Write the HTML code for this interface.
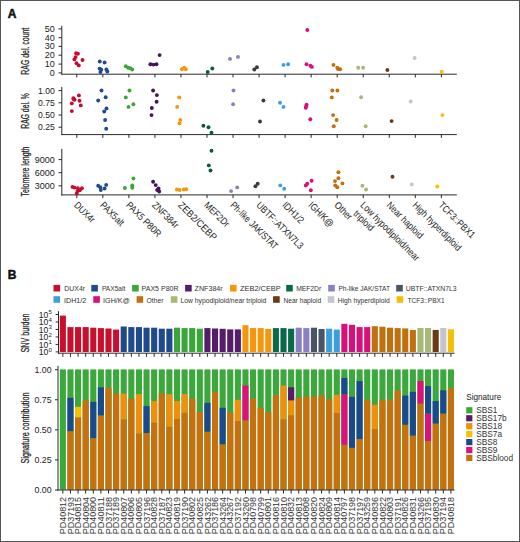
<!DOCTYPE html><html><head><meta charset="utf-8"><style>html,body{margin:0;padding:0;background:#fff;}svg{display:block;} text{font-family:"Liberation Sans", sans-serif;}</style></head><body>
<svg width="520" height="542" viewBox="0 0 520 542">
<rect x="0" y="0" width="520" height="542" fill="#fff"/>
<text x="7.80" y="18.00" font-size="12.0" text-anchor="start" font-weight="bold" fill="#111" stroke="#111" stroke-width="0.5">A</text>
<text x="7.80" y="279.10" font-size="12.0" text-anchor="start" font-weight="bold" fill="#111" stroke="#111" stroke-width="0.5">B</text>
<line x1="61.80" y1="25.80" x2="61.80" y2="74.70" stroke="#2a2a2a" stroke-width="1"/>
<line x1="61.30" y1="74.20" x2="456.80" y2="74.20" stroke="#2a2a2a" stroke-width="1"/>
<line x1="76.80" y1="74.20" x2="76.80" y2="77.40" stroke="#2a2a2a" stroke-width="1"/>
<line x1="102.84" y1="74.20" x2="102.84" y2="77.40" stroke="#2a2a2a" stroke-width="1"/>
<line x1="128.88" y1="74.20" x2="128.88" y2="77.40" stroke="#2a2a2a" stroke-width="1"/>
<line x1="154.92" y1="74.20" x2="154.92" y2="77.40" stroke="#2a2a2a" stroke-width="1"/>
<line x1="180.96" y1="74.20" x2="180.96" y2="77.40" stroke="#2a2a2a" stroke-width="1"/>
<line x1="207.00" y1="74.20" x2="207.00" y2="77.40" stroke="#2a2a2a" stroke-width="1"/>
<line x1="233.04" y1="74.20" x2="233.04" y2="77.40" stroke="#2a2a2a" stroke-width="1"/>
<line x1="259.08" y1="74.20" x2="259.08" y2="77.40" stroke="#2a2a2a" stroke-width="1"/>
<line x1="285.12" y1="74.20" x2="285.12" y2="77.40" stroke="#2a2a2a" stroke-width="1"/>
<line x1="311.16" y1="74.20" x2="311.16" y2="77.40" stroke="#2a2a2a" stroke-width="1"/>
<line x1="337.20" y1="74.20" x2="337.20" y2="77.40" stroke="#2a2a2a" stroke-width="1"/>
<line x1="363.24" y1="74.20" x2="363.24" y2="77.40" stroke="#2a2a2a" stroke-width="1"/>
<line x1="389.28" y1="74.20" x2="389.28" y2="77.40" stroke="#2a2a2a" stroke-width="1"/>
<line x1="415.32" y1="74.20" x2="415.32" y2="77.40" stroke="#2a2a2a" stroke-width="1"/>
<line x1="441.36" y1="74.20" x2="441.36" y2="77.40" stroke="#2a2a2a" stroke-width="1"/>
<line x1="58.50" y1="28.90" x2="61.80" y2="28.90" stroke="#2a2a2a" stroke-width="1"/>
<text x="54.80" y="31.80" font-size="8.2" text-anchor="end" font-weight="normal" fill="#222" textLength="10.03" lengthAdjust="spacingAndGlyphs">50</text>
<line x1="58.50" y1="37.70" x2="61.80" y2="37.70" stroke="#2a2a2a" stroke-width="1"/>
<text x="54.80" y="40.60" font-size="8.2" text-anchor="end" font-weight="normal" fill="#222" textLength="10.03" lengthAdjust="spacingAndGlyphs">40</text>
<line x1="58.50" y1="46.40" x2="61.80" y2="46.40" stroke="#2a2a2a" stroke-width="1"/>
<text x="54.80" y="49.30" font-size="8.2" text-anchor="end" font-weight="normal" fill="#222" textLength="10.03" lengthAdjust="spacingAndGlyphs">30</text>
<line x1="58.50" y1="55.20" x2="61.80" y2="55.20" stroke="#2a2a2a" stroke-width="1"/>
<text x="54.80" y="58.10" font-size="8.2" text-anchor="end" font-weight="normal" fill="#222" textLength="10.03" lengthAdjust="spacingAndGlyphs">20</text>
<line x1="58.50" y1="64.10" x2="61.80" y2="64.10" stroke="#2a2a2a" stroke-width="1"/>
<text x="54.80" y="67.00" font-size="8.2" text-anchor="end" font-weight="normal" fill="#222" textLength="10.03" lengthAdjust="spacingAndGlyphs">10</text>
<line x1="58.50" y1="72.90" x2="61.80" y2="72.90" stroke="#2a2a2a" stroke-width="1"/>
<text x="54.80" y="75.80" font-size="8.2" text-anchor="end" font-weight="normal" fill="#222" textLength="5.02" lengthAdjust="spacingAndGlyphs">0</text>
<text x="0" y="0" transform="translate(29.20 51.20) rotate(-90)" font-size="11" text-anchor="middle" font-weight="normal" fill="#222" textLength="47" lengthAdjust="spacingAndGlyphs" stroke="#222" stroke-width="0.25">RAG del. count</text>
<circle cx="76.10" cy="53.30" r="1.95" fill="#c40c30"/>
<circle cx="77.90" cy="53.70" r="1.95" fill="#c40c30"/>
<circle cx="75.60" cy="57.10" r="1.95" fill="#c40c30"/>
<circle cx="74.40" cy="59.40" r="1.95" fill="#c40c30"/>
<circle cx="82.50" cy="60.00" r="1.95" fill="#c40c30"/>
<circle cx="76.50" cy="63.20" r="1.95" fill="#c40c30"/>
<circle cx="78.80" cy="65.40" r="1.95" fill="#c40c30"/>
<circle cx="99.80" cy="61.50" r="1.95" fill="#1f4a8c"/>
<circle cx="104.60" cy="62.50" r="1.95" fill="#1f4a8c"/>
<circle cx="99.60" cy="68.60" r="1.95" fill="#1f4a8c"/>
<circle cx="101.30" cy="69.80" r="1.95" fill="#1f4a8c"/>
<circle cx="100.40" cy="72.10" r="1.95" fill="#1f4a8c"/>
<circle cx="106.40" cy="69.50" r="1.95" fill="#1f4a8c"/>
<circle cx="107.30" cy="71.50" r="1.95" fill="#1f4a8c"/>
<circle cx="125.80" cy="66.20" r="1.95" fill="#3aa53a"/>
<circle cx="128.10" cy="67.70" r="1.95" fill="#3aa53a"/>
<circle cx="130.40" cy="68.20" r="1.95" fill="#3aa53a"/>
<circle cx="132.20" cy="69.50" r="1.95" fill="#3aa53a"/>
<circle cx="150.40" cy="64.20" r="1.95" fill="#44145a"/>
<circle cx="153.50" cy="64.60" r="1.95" fill="#44145a"/>
<circle cx="156.50" cy="64.20" r="1.95" fill="#44145a"/>
<circle cx="159.60" cy="55.10" r="1.95" fill="#44145a"/>
<circle cx="181.90" cy="69.20" r="1.95" fill="#f5960c"/>
<circle cx="184.20" cy="67.70" r="1.95" fill="#f5960c"/>
<circle cx="185.80" cy="69.20" r="1.95" fill="#f5960c"/>
<circle cx="207.70" cy="72.00" r="1.95" fill="#0a5a3e"/>
<circle cx="212.30" cy="68.50" r="1.95" fill="#0a5a3e"/>
<circle cx="230.00" cy="58.90" r="1.95" fill="#8a80c0"/>
<circle cx="238.00" cy="56.90" r="1.95" fill="#8a80c0"/>
<circle cx="254.30" cy="69.50" r="1.95" fill="#383a44"/>
<circle cx="256.90" cy="67.20" r="1.95" fill="#383a44"/>
<circle cx="283.50" cy="64.90" r="1.95" fill="#3aa0dc"/>
<circle cx="288.10" cy="64.30" r="1.95" fill="#3aa0dc"/>
<circle cx="307.30" cy="30.00" r="1.95" fill="#d8107a"/>
<circle cx="306.50" cy="64.30" r="1.95" fill="#d8107a"/>
<circle cx="310.40" cy="65.70" r="1.95" fill="#d8107a"/>
<circle cx="311.90" cy="66.90" r="1.95" fill="#d8107a"/>
<circle cx="333.50" cy="64.90" r="1.95" fill="#c0700e"/>
<circle cx="337.30" cy="67.70" r="1.95" fill="#c0700e"/>
<circle cx="340.10" cy="69.20" r="1.95" fill="#c0700e"/>
<circle cx="338.00" cy="69.00" r="1.95" fill="#c0700e"/>
<circle cx="358.20" cy="67.70" r="1.95" fill="#a8b878"/>
<circle cx="363.10" cy="67.70" r="1.95" fill="#a8b878"/>
<circle cx="387.40" cy="70.00" r="1.95" fill="#6a3a14"/>
<circle cx="414.60" cy="58.00" r="1.95" fill="#c6c4cc"/>
<circle cx="441.70" cy="71.70" r="1.95" fill="#f5be08"/>
<line x1="61.80" y1="86.90" x2="61.80" y2="135.10" stroke="#2a2a2a" stroke-width="1"/>
<line x1="61.30" y1="134.60" x2="456.80" y2="134.60" stroke="#2a2a2a" stroke-width="1"/>
<line x1="76.80" y1="134.60" x2="76.80" y2="137.80" stroke="#2a2a2a" stroke-width="1"/>
<line x1="102.84" y1="134.60" x2="102.84" y2="137.80" stroke="#2a2a2a" stroke-width="1"/>
<line x1="128.88" y1="134.60" x2="128.88" y2="137.80" stroke="#2a2a2a" stroke-width="1"/>
<line x1="154.92" y1="134.60" x2="154.92" y2="137.80" stroke="#2a2a2a" stroke-width="1"/>
<line x1="180.96" y1="134.60" x2="180.96" y2="137.80" stroke="#2a2a2a" stroke-width="1"/>
<line x1="207.00" y1="134.60" x2="207.00" y2="137.80" stroke="#2a2a2a" stroke-width="1"/>
<line x1="233.04" y1="134.60" x2="233.04" y2="137.80" stroke="#2a2a2a" stroke-width="1"/>
<line x1="259.08" y1="134.60" x2="259.08" y2="137.80" stroke="#2a2a2a" stroke-width="1"/>
<line x1="285.12" y1="134.60" x2="285.12" y2="137.80" stroke="#2a2a2a" stroke-width="1"/>
<line x1="311.16" y1="134.60" x2="311.16" y2="137.80" stroke="#2a2a2a" stroke-width="1"/>
<line x1="337.20" y1="134.60" x2="337.20" y2="137.80" stroke="#2a2a2a" stroke-width="1"/>
<line x1="363.24" y1="134.60" x2="363.24" y2="137.80" stroke="#2a2a2a" stroke-width="1"/>
<line x1="389.28" y1="134.60" x2="389.28" y2="137.80" stroke="#2a2a2a" stroke-width="1"/>
<line x1="415.32" y1="134.60" x2="415.32" y2="137.80" stroke="#2a2a2a" stroke-width="1"/>
<line x1="441.36" y1="134.60" x2="441.36" y2="137.80" stroke="#2a2a2a" stroke-width="1"/>
<line x1="58.50" y1="90.60" x2="61.80" y2="90.60" stroke="#2a2a2a" stroke-width="1"/>
<text x="54.80" y="93.50" font-size="8.2" text-anchor="end" font-weight="normal" fill="#222" textLength="16.76" lengthAdjust="spacingAndGlyphs">1.00</text>
<line x1="58.50" y1="102.80" x2="61.80" y2="102.80" stroke="#2a2a2a" stroke-width="1"/>
<text x="54.80" y="105.70" font-size="8.2" text-anchor="end" font-weight="normal" fill="#222" textLength="16.76" lengthAdjust="spacingAndGlyphs">0.75</text>
<line x1="58.50" y1="115.00" x2="61.80" y2="115.00" stroke="#2a2a2a" stroke-width="1"/>
<text x="54.80" y="117.90" font-size="8.2" text-anchor="end" font-weight="normal" fill="#222" textLength="16.76" lengthAdjust="spacingAndGlyphs">0.50</text>
<line x1="58.50" y1="127.20" x2="61.80" y2="127.20" stroke="#2a2a2a" stroke-width="1"/>
<text x="54.80" y="130.10" font-size="8.2" text-anchor="end" font-weight="normal" fill="#222" textLength="16.76" lengthAdjust="spacingAndGlyphs">0.25</text>
<text x="0" y="0" transform="translate(29.20 111.00) rotate(-90)" font-size="11" text-anchor="middle" font-weight="normal" fill="#222" textLength="35.5" lengthAdjust="spacingAndGlyphs" stroke="#222" stroke-width="0.25">RAG del. %</text>
<circle cx="73.40" cy="98.20" r="1.95" fill="#c40c30"/>
<circle cx="74.60" cy="99.70" r="1.95" fill="#c40c30"/>
<circle cx="71.80" cy="103.40" r="1.95" fill="#c40c30"/>
<circle cx="78.90" cy="95.40" r="1.95" fill="#c40c30"/>
<circle cx="79.50" cy="100.80" r="1.95" fill="#c40c30"/>
<circle cx="80.80" cy="105.40" r="1.95" fill="#c40c30"/>
<circle cx="71.80" cy="111.10" r="1.95" fill="#c40c30"/>
<circle cx="73.80" cy="99.20" r="1.95" fill="#c40c30"/>
<circle cx="101.50" cy="90.50" r="1.95" fill="#1f4a8c"/>
<circle cx="98.20" cy="100.50" r="1.95" fill="#1f4a8c"/>
<circle cx="105.70" cy="97.20" r="1.95" fill="#1f4a8c"/>
<circle cx="106.50" cy="108.50" r="1.95" fill="#1f4a8c"/>
<circle cx="104.20" cy="111.50" r="1.95" fill="#1f4a8c"/>
<circle cx="105.10" cy="120.00" r="1.95" fill="#1f4a8c"/>
<circle cx="106.20" cy="128.80" r="1.95" fill="#1f4a8c"/>
<circle cx="129.50" cy="90.50" r="1.95" fill="#3aa53a"/>
<circle cx="125.80" cy="97.40" r="1.95" fill="#3aa53a"/>
<circle cx="128.50" cy="106.90" r="1.95" fill="#3aa53a"/>
<circle cx="133.40" cy="104.30" r="1.95" fill="#3aa53a"/>
<circle cx="153.10" cy="90.50" r="1.95" fill="#44145a"/>
<circle cx="156.90" cy="95.10" r="1.95" fill="#44145a"/>
<circle cx="156.60" cy="101.80" r="1.95" fill="#44145a"/>
<circle cx="151.80" cy="108.00" r="1.95" fill="#44145a"/>
<circle cx="151.50" cy="115.10" r="1.95" fill="#44145a"/>
<circle cx="179.20" cy="97.40" r="1.95" fill="#f5960c"/>
<circle cx="177.20" cy="106.90" r="1.95" fill="#f5960c"/>
<circle cx="180.30" cy="120.00" r="1.95" fill="#f5960c"/>
<circle cx="179.50" cy="123.40" r="1.95" fill="#f5960c"/>
<circle cx="203.40" cy="125.80" r="1.95" fill="#0a5a3e"/>
<circle cx="208.50" cy="127.20" r="1.95" fill="#0a5a3e"/>
<circle cx="211.50" cy="132.80" r="1.95" fill="#0a5a3e"/>
<circle cx="233.50" cy="90.50" r="1.95" fill="#8a80c0"/>
<circle cx="233.10" cy="104.20" r="1.95" fill="#8a80c0"/>
<circle cx="263.40" cy="100.50" r="1.95" fill="#383a44"/>
<circle cx="260.00" cy="121.50" r="1.95" fill="#383a44"/>
<circle cx="280.00" cy="102.80" r="1.95" fill="#3aa0dc"/>
<circle cx="283.50" cy="106.90" r="1.95" fill="#3aa0dc"/>
<circle cx="306.60" cy="104.60" r="1.95" fill="#d8107a"/>
<circle cx="305.80" cy="107.70" r="1.95" fill="#d8107a"/>
<circle cx="306.20" cy="106.20" r="1.95" fill="#d8107a"/>
<circle cx="310.30" cy="119.20" r="1.95" fill="#d8107a"/>
<circle cx="332.30" cy="90.50" r="1.95" fill="#c0700e"/>
<circle cx="337.40" cy="90.50" r="1.95" fill="#c0700e"/>
<circle cx="331.80" cy="97.40" r="1.95" fill="#c0700e"/>
<circle cx="333.10" cy="115.10" r="1.95" fill="#c0700e"/>
<circle cx="336.60" cy="120.00" r="1.95" fill="#c0700e"/>
<circle cx="333.80" cy="126.20" r="1.95" fill="#c0700e"/>
<circle cx="361.10" cy="97.30" r="1.95" fill="#a8b878"/>
<circle cx="365.70" cy="126.20" r="1.95" fill="#a8b878"/>
<circle cx="391.60" cy="121.10" r="1.95" fill="#6a3a14"/>
<circle cx="410.70" cy="101.50" r="1.95" fill="#c6c4cc"/>
<circle cx="442.40" cy="115.10" r="1.95" fill="#f5be08"/>
<line x1="61.80" y1="148.80" x2="61.80" y2="195.40" stroke="#2a2a2a" stroke-width="1"/>
<line x1="61.30" y1="194.90" x2="456.80" y2="194.90" stroke="#2a2a2a" stroke-width="1"/>
<line x1="76.80" y1="194.90" x2="76.80" y2="198.10" stroke="#2a2a2a" stroke-width="1"/>
<line x1="102.84" y1="194.90" x2="102.84" y2="198.10" stroke="#2a2a2a" stroke-width="1"/>
<line x1="128.88" y1="194.90" x2="128.88" y2="198.10" stroke="#2a2a2a" stroke-width="1"/>
<line x1="154.92" y1="194.90" x2="154.92" y2="198.10" stroke="#2a2a2a" stroke-width="1"/>
<line x1="180.96" y1="194.90" x2="180.96" y2="198.10" stroke="#2a2a2a" stroke-width="1"/>
<line x1="207.00" y1="194.90" x2="207.00" y2="198.10" stroke="#2a2a2a" stroke-width="1"/>
<line x1="233.04" y1="194.90" x2="233.04" y2="198.10" stroke="#2a2a2a" stroke-width="1"/>
<line x1="259.08" y1="194.90" x2="259.08" y2="198.10" stroke="#2a2a2a" stroke-width="1"/>
<line x1="285.12" y1="194.90" x2="285.12" y2="198.10" stroke="#2a2a2a" stroke-width="1"/>
<line x1="311.16" y1="194.90" x2="311.16" y2="198.10" stroke="#2a2a2a" stroke-width="1"/>
<line x1="337.20" y1="194.90" x2="337.20" y2="198.10" stroke="#2a2a2a" stroke-width="1"/>
<line x1="363.24" y1="194.90" x2="363.24" y2="198.10" stroke="#2a2a2a" stroke-width="1"/>
<line x1="389.28" y1="194.90" x2="389.28" y2="198.10" stroke="#2a2a2a" stroke-width="1"/>
<line x1="415.32" y1="194.90" x2="415.32" y2="198.10" stroke="#2a2a2a" stroke-width="1"/>
<line x1="441.36" y1="194.90" x2="441.36" y2="198.10" stroke="#2a2a2a" stroke-width="1"/>
<line x1="58.50" y1="159.60" x2="61.80" y2="159.60" stroke="#2a2a2a" stroke-width="1"/>
<text x="54.80" y="162.50" font-size="8.2" text-anchor="end" font-weight="normal" fill="#222" textLength="20.06" lengthAdjust="spacingAndGlyphs">9000</text>
<line x1="58.50" y1="172.70" x2="61.80" y2="172.70" stroke="#2a2a2a" stroke-width="1"/>
<text x="54.80" y="175.60" font-size="8.2" text-anchor="end" font-weight="normal" fill="#222" textLength="20.06" lengthAdjust="spacingAndGlyphs">6000</text>
<line x1="58.50" y1="185.80" x2="61.80" y2="185.80" stroke="#2a2a2a" stroke-width="1"/>
<text x="54.80" y="188.70" font-size="8.2" text-anchor="end" font-weight="normal" fill="#222" textLength="20.06" lengthAdjust="spacingAndGlyphs">3000</text>
<text x="0" y="0" transform="translate(29.20 171.50) rotate(-90)" font-size="11" text-anchor="middle" font-weight="normal" fill="#222" textLength="50" lengthAdjust="spacingAndGlyphs" stroke="#222" stroke-width="0.25">Telomere length</text>
<circle cx="72.50" cy="186.90" r="1.95" fill="#c40c30"/>
<circle cx="74.50" cy="187.60" r="1.95" fill="#c40c30"/>
<circle cx="77.80" cy="188.10" r="1.95" fill="#c40c30"/>
<circle cx="81.90" cy="188.30" r="1.95" fill="#c40c30"/>
<circle cx="79.80" cy="190.20" r="1.95" fill="#c40c30"/>
<circle cx="77.50" cy="191.10" r="1.95" fill="#c40c30"/>
<circle cx="76.80" cy="193.40" r="1.95" fill="#c40c30"/>
<circle cx="98.20" cy="185.70" r="1.95" fill="#1f4a8c"/>
<circle cx="100.30" cy="187.20" r="1.95" fill="#1f4a8c"/>
<circle cx="106.20" cy="184.90" r="1.95" fill="#1f4a8c"/>
<circle cx="104.60" cy="188.50" r="1.95" fill="#1f4a8c"/>
<circle cx="100.80" cy="190.00" r="1.95" fill="#1f4a8c"/>
<circle cx="133.40" cy="178.50" r="1.95" fill="#3aa53a"/>
<circle cx="124.90" cy="188.00" r="1.95" fill="#3aa53a"/>
<circle cx="132.30" cy="185.40" r="1.95" fill="#3aa53a"/>
<circle cx="132.30" cy="187.70" r="1.95" fill="#3aa53a"/>
<circle cx="153.10" cy="181.80" r="1.95" fill="#44145a"/>
<circle cx="155.70" cy="185.10" r="1.95" fill="#44145a"/>
<circle cx="158.50" cy="188.50" r="1.95" fill="#44145a"/>
<circle cx="157.20" cy="190.00" r="1.95" fill="#44145a"/>
<circle cx="159.20" cy="191.50" r="1.95" fill="#44145a"/>
<circle cx="176.90" cy="189.50" r="1.95" fill="#f5960c"/>
<circle cx="179.70" cy="190.00" r="1.95" fill="#f5960c"/>
<circle cx="183.80" cy="189.50" r="1.95" fill="#f5960c"/>
<circle cx="186.20" cy="189.20" r="1.95" fill="#f5960c"/>
<circle cx="211.50" cy="150.80" r="1.95" fill="#0a5a3e"/>
<circle cx="208.80" cy="165.40" r="1.95" fill="#0a5a3e"/>
<circle cx="210.50" cy="170.50" r="1.95" fill="#0a5a3e"/>
<circle cx="231.10" cy="191.10" r="1.95" fill="#8a80c0"/>
<circle cx="237.20" cy="187.40" r="1.95" fill="#8a80c0"/>
<circle cx="255.40" cy="186.20" r="1.95" fill="#383a44"/>
<circle cx="257.70" cy="183.80" r="1.95" fill="#383a44"/>
<circle cx="280.30" cy="185.40" r="1.95" fill="#3aa0dc"/>
<circle cx="284.20" cy="188.80" r="1.95" fill="#3aa0dc"/>
<circle cx="311.60" cy="180.80" r="1.95" fill="#d8107a"/>
<circle cx="307.30" cy="183.80" r="1.95" fill="#d8107a"/>
<circle cx="305.80" cy="185.40" r="1.95" fill="#d8107a"/>
<circle cx="310.80" cy="190.30" r="1.95" fill="#d8107a"/>
<circle cx="338.40" cy="172.30" r="1.95" fill="#c0700e"/>
<circle cx="338.40" cy="178.20" r="1.95" fill="#c0700e"/>
<circle cx="335.00" cy="181.10" r="1.95" fill="#c0700e"/>
<circle cx="342.40" cy="183.40" r="1.95" fill="#c0700e"/>
<circle cx="335.30" cy="185.40" r="1.95" fill="#c0700e"/>
<circle cx="337.30" cy="187.20" r="1.95" fill="#c0700e"/>
<circle cx="362.40" cy="185.80" r="1.95" fill="#a8b878"/>
<circle cx="366.10" cy="189.50" r="1.95" fill="#a8b878"/>
<circle cx="392.50" cy="176.70" r="1.95" fill="#6a3a14"/>
<circle cx="411.70" cy="184.40" r="1.95" fill="#c6c4cc"/>
<circle cx="437.30" cy="186.50" r="1.95" fill="#f5be08"/>
<text x="0" y="0" transform="translate(73.40 205.70) rotate(45)" font-size="9.8" text-anchor="start" font-weight="normal" fill="#222" textLength="25.11" lengthAdjust="spacingAndGlyphs">DUX4r</text>
<text x="0" y="0" transform="translate(99.44 205.70) rotate(45)" font-size="9.8" text-anchor="start" font-weight="normal" fill="#222" textLength="29.62" lengthAdjust="spacingAndGlyphs">PAX5alt</text>
<text x="0" y="0" transform="translate(125.48 205.70) rotate(45)" font-size="9.8" text-anchor="start" font-weight="normal" fill="#222" textLength="45.24" lengthAdjust="spacingAndGlyphs">PAX5 P80R</text>
<text x="0" y="0" transform="translate(151.52 205.70) rotate(45)" font-size="9.8" text-anchor="start" font-weight="normal" fill="#222" textLength="33.02" lengthAdjust="spacingAndGlyphs">ZNF384r</text>
<text x="0" y="0" transform="translate(177.56 205.70) rotate(45)" font-size="9.8" text-anchor="start" font-weight="normal" fill="#222" textLength="50.05" lengthAdjust="spacingAndGlyphs">ZEB2/CEBP</text>
<text x="0" y="0" transform="translate(203.60 205.70) rotate(45)" font-size="9.8" text-anchor="start" font-weight="normal" fill="#222" textLength="31.15" lengthAdjust="spacingAndGlyphs">MEF2Dr</text>
<text x="0" y="0" transform="translate(229.64 205.70) rotate(45)" font-size="9.8" text-anchor="start" font-weight="normal" fill="#222" textLength="62.73" lengthAdjust="spacingAndGlyphs">Ph-like JAK/STAT</text>
<text x="0" y="0" transform="translate(255.68 205.70) rotate(45)" font-size="9.8" text-anchor="start" font-weight="normal" fill="#222" textLength="62.17" lengthAdjust="spacingAndGlyphs">UBTF::ATXN7L3</text>
<text x="0" y="0" transform="translate(281.72 205.70) rotate(45)" font-size="9.8" text-anchor="start" font-weight="normal" fill="#222" textLength="26.05" lengthAdjust="spacingAndGlyphs">IDH1/2</text>
<text x="0" y="0" transform="translate(307.76 205.70) rotate(45)" font-size="9.8" text-anchor="start" font-weight="normal" fill="#222" textLength="31.29" lengthAdjust="spacingAndGlyphs">IGH/K@</text>
<text x="0" y="0" transform="translate(333.80 205.70) rotate(45)" font-size="9.8" text-anchor="start" font-weight="normal" fill="#222" textLength="20.93" lengthAdjust="spacingAndGlyphs">Other</text>
<text x="0" y="0" transform="translate(359.84 205.70) rotate(45)" font-size="9.8" text-anchor="start" font-weight="normal" fill="#222" textLength="79.1" lengthAdjust="spacingAndGlyphs">Low hypodiploid/near</text>
<text x="0" y="0" transform="translate(385.88 205.70) rotate(45)" font-size="9.8" text-anchor="start" font-weight="normal" fill="#222" textLength="47.46" lengthAdjust="spacingAndGlyphs">Near haploid</text>
<text x="0" y="0" transform="translate(411.92 205.70) rotate(45)" font-size="9.8" text-anchor="start" font-weight="normal" fill="#222" textLength="64.67" lengthAdjust="spacingAndGlyphs">High hyperdiploid</text>
<text x="0" y="0" transform="translate(437.96 205.70) rotate(45)" font-size="9.8" text-anchor="start" font-weight="normal" fill="#222" textLength="46.98" lengthAdjust="spacingAndGlyphs">TCF3::PBX1</text>
<text x="0" y="0" transform="translate(352.84 214.20) rotate(45)" font-size="9.8" text-anchor="start" font-weight="normal" fill="#222" textLength="24.65" lengthAdjust="spacingAndGlyphs">triploid</text>
<rect x="53.50" y="284.90" width="6.60" height="6.60" fill="#c8102e"/>
<text x="64.20" y="291.20" font-size="7.9" text-anchor="start" font-weight="normal" fill="#333" textLength="20.9" lengthAdjust="spacingAndGlyphs">DUX4r</text>
<rect x="91.30" y="284.90" width="6.60" height="6.60" fill="#1f4a8c"/>
<text x="101.90" y="291.20" font-size="7.9" text-anchor="start" font-weight="normal" fill="#333" textLength="23.5" lengthAdjust="spacingAndGlyphs">PAX5alt</text>
<rect x="132.10" y="284.90" width="6.60" height="6.60" fill="#3aa53a"/>
<text x="141.50" y="291.20" font-size="7.9" text-anchor="start" font-weight="normal" fill="#333" textLength="37.1" lengthAdjust="spacingAndGlyphs">PAX5 P80R</text>
<rect x="185.10" y="284.90" width="6.60" height="6.60" fill="#561c6c"/>
<text x="194.60" y="291.20" font-size="7.9" text-anchor="start" font-weight="normal" fill="#333" textLength="28.1" lengthAdjust="spacingAndGlyphs">ZNF384r</text>
<rect x="230.00" y="284.90" width="6.60" height="6.60" fill="#f5960c"/>
<text x="240.00" y="291.20" font-size="7.9" text-anchor="start" font-weight="normal" fill="#333" textLength="40.7" lengthAdjust="spacingAndGlyphs">ZEB2/CEBP</text>
<rect x="286.20" y="284.90" width="6.60" height="6.60" fill="#0a6a48"/>
<text x="296.20" y="291.20" font-size="7.9" text-anchor="start" font-weight="normal" fill="#333" textLength="25.0" lengthAdjust="spacingAndGlyphs">MEF2Dr</text>
<rect x="328.20" y="284.90" width="6.60" height="6.60" fill="#8a80c0"/>
<text x="338.50" y="291.20" font-size="7.9" text-anchor="start" font-weight="normal" fill="#333" textLength="51.4" lengthAdjust="spacingAndGlyphs">Ph-like JAK/STAT</text>
<rect x="396.20" y="284.90" width="6.60" height="6.60" fill="#4a5468"/>
<text x="405.80" y="291.20" font-size="7.9" text-anchor="start" font-weight="normal" fill="#333" textLength="50.8" lengthAdjust="spacingAndGlyphs">UBTF::ATXN7L3</text>
<rect x="53.50" y="296.20" width="6.60" height="6.60" fill="#3aa0dc"/>
<text x="64.00" y="302.50" font-size="7.9" text-anchor="start" font-weight="normal" fill="#333" textLength="22.2" lengthAdjust="spacingAndGlyphs">IDH1/2</text>
<rect x="93.30" y="296.20" width="6.60" height="6.60" fill="#d8107a"/>
<text x="103.10" y="302.50" font-size="7.9" text-anchor="start" font-weight="normal" fill="#333" textLength="26.7" lengthAdjust="spacingAndGlyphs">IGH/K@</text>
<rect x="136.60" y="296.20" width="6.60" height="6.60" fill="#c0700e"/>
<text x="146.50" y="302.50" font-size="7.9" text-anchor="start" font-weight="normal" fill="#333" textLength="17.0" lengthAdjust="spacingAndGlyphs">Other</text>
<rect x="170.80" y="296.20" width="6.60" height="6.60" fill="#a8b878"/>
<text x="180.50" y="302.50" font-size="7.9" text-anchor="start" font-weight="normal" fill="#333" textLength="85.7" lengthAdjust="spacingAndGlyphs">Low hypodiploid/near triploid</text>
<rect x="273.10" y="296.20" width="6.60" height="6.60" fill="#6a3a14"/>
<text x="283.40" y="302.50" font-size="7.9" text-anchor="start" font-weight="normal" fill="#333" textLength="37.8" lengthAdjust="spacingAndGlyphs">Near haploid</text>
<rect x="327.70" y="296.20" width="6.60" height="6.60" fill="#c6c4cc"/>
<text x="337.70" y="302.50" font-size="7.9" text-anchor="start" font-weight="normal" fill="#333" textLength="52.2" lengthAdjust="spacingAndGlyphs">High hyperdiploid</text>
<rect x="396.60" y="296.20" width="6.60" height="6.60" fill="#f5be08"/>
<text x="407.40" y="302.50" font-size="7.9" text-anchor="start" font-weight="normal" fill="#333" textLength="37.3" lengthAdjust="spacingAndGlyphs">TCF3::PBX1</text>
<rect x="59.80" y="315.60" width="6.10" height="36.40" fill="#c8102e"/>
<rect x="67.41" y="327.10" width="6.10" height="24.90" fill="#c8102e"/>
<rect x="75.02" y="327.10" width="6.10" height="24.90" fill="#c8102e"/>
<rect x="82.63" y="327.10" width="6.10" height="24.90" fill="#c8102e"/>
<rect x="90.24" y="327.70" width="6.10" height="24.30" fill="#c8102e"/>
<rect x="97.85" y="328.10" width="6.10" height="23.90" fill="#c8102e"/>
<rect x="105.45" y="328.50" width="6.10" height="23.50" fill="#c8102e"/>
<rect x="113.06" y="329.60" width="6.10" height="22.40" fill="#c8102e"/>
<rect x="120.67" y="326.50" width="6.10" height="25.50" fill="#1f4a8c"/>
<rect x="128.28" y="327.10" width="6.10" height="24.90" fill="#1f4a8c"/>
<rect x="135.89" y="327.10" width="6.10" height="24.90" fill="#1f4a8c"/>
<rect x="143.50" y="327.70" width="6.10" height="24.30" fill="#1f4a8c"/>
<rect x="151.11" y="327.70" width="6.10" height="24.30" fill="#1f4a8c"/>
<rect x="158.72" y="328.70" width="6.10" height="23.30" fill="#1f4a8c"/>
<rect x="166.33" y="328.70" width="6.10" height="23.30" fill="#1f4a8c"/>
<rect x="173.94" y="327.70" width="6.10" height="24.30" fill="#3aa53a"/>
<rect x="181.54" y="328.10" width="6.10" height="23.90" fill="#3aa53a"/>
<rect x="189.15" y="328.10" width="6.10" height="23.90" fill="#3aa53a"/>
<rect x="196.76" y="328.70" width="6.10" height="23.30" fill="#3aa53a"/>
<rect x="204.37" y="328.10" width="6.10" height="23.90" fill="#561c6c"/>
<rect x="211.98" y="328.50" width="6.10" height="23.50" fill="#561c6c"/>
<rect x="219.59" y="328.80" width="6.10" height="23.20" fill="#561c6c"/>
<rect x="227.20" y="329.40" width="6.10" height="22.60" fill="#561c6c"/>
<rect x="234.81" y="329.40" width="6.10" height="22.60" fill="#561c6c"/>
<rect x="242.42" y="325.20" width="6.10" height="26.80" fill="#f5960c"/>
<rect x="250.02" y="328.10" width="6.10" height="23.90" fill="#f5960c"/>
<rect x="257.63" y="328.10" width="6.10" height="23.90" fill="#f5960c"/>
<rect x="265.24" y="329.00" width="6.10" height="23.00" fill="#f5960c"/>
<rect x="272.85" y="328.10" width="6.10" height="23.90" fill="#0a6a48"/>
<rect x="280.46" y="328.10" width="6.10" height="23.90" fill="#0a6a48"/>
<rect x="288.07" y="328.70" width="6.10" height="23.30" fill="#0a6a48"/>
<rect x="295.68" y="327.70" width="6.10" height="24.30" fill="#8a80c0"/>
<rect x="303.29" y="328.10" width="6.10" height="23.90" fill="#8a80c0"/>
<rect x="310.90" y="327.70" width="6.10" height="24.30" fill="#4a5468"/>
<rect x="318.51" y="329.00" width="6.10" height="23.00" fill="#4a5468"/>
<rect x="326.12" y="328.70" width="6.10" height="23.30" fill="#3aa0dc"/>
<rect x="333.72" y="329.60" width="6.10" height="22.40" fill="#3aa0dc"/>
<rect x="341.33" y="323.80" width="6.10" height="28.20" fill="#d8107a"/>
<rect x="348.94" y="324.80" width="6.10" height="27.20" fill="#d8107a"/>
<rect x="356.55" y="327.10" width="6.10" height="24.90" fill="#d8107a"/>
<rect x="364.16" y="327.10" width="6.10" height="24.90" fill="#d8107a"/>
<rect x="371.77" y="326.20" width="6.10" height="25.80" fill="#c0700e"/>
<rect x="379.38" y="326.70" width="6.10" height="25.30" fill="#c0700e"/>
<rect x="386.99" y="327.70" width="6.10" height="24.30" fill="#c0700e"/>
<rect x="394.60" y="328.10" width="6.10" height="23.90" fill="#c0700e"/>
<rect x="402.20" y="328.40" width="6.10" height="23.60" fill="#c0700e"/>
<rect x="409.81" y="330.00" width="6.10" height="22.00" fill="#c0700e"/>
<rect x="417.42" y="328.00" width="6.10" height="24.00" fill="#a8b878"/>
<rect x="425.03" y="328.00" width="6.10" height="24.00" fill="#a8b878"/>
<rect x="432.64" y="329.90" width="6.10" height="22.10" fill="#6a3a14"/>
<rect x="440.25" y="328.00" width="6.10" height="24.00" fill="#c6c4cc"/>
<rect x="447.86" y="329.30" width="6.10" height="22.70" fill="#f5be08"/>
<line x1="58.50" y1="311.20" x2="58.50" y2="353.70" stroke="#2a2a2a" stroke-width="1"/>
<line x1="58.00" y1="353.20" x2="454.60" y2="353.20" stroke="#2a2a2a" stroke-width="1"/>
<line x1="62.85" y1="353.20" x2="62.85" y2="356.80" stroke="#2a2a2a" stroke-width="1"/>
<line x1="70.46" y1="353.20" x2="70.46" y2="356.80" stroke="#2a2a2a" stroke-width="1"/>
<line x1="78.07" y1="353.20" x2="78.07" y2="356.80" stroke="#2a2a2a" stroke-width="1"/>
<line x1="85.68" y1="353.20" x2="85.68" y2="356.80" stroke="#2a2a2a" stroke-width="1"/>
<line x1="93.29" y1="353.20" x2="93.29" y2="356.80" stroke="#2a2a2a" stroke-width="1"/>
<line x1="100.90" y1="353.20" x2="100.90" y2="356.80" stroke="#2a2a2a" stroke-width="1"/>
<line x1="108.50" y1="353.20" x2="108.50" y2="356.80" stroke="#2a2a2a" stroke-width="1"/>
<line x1="116.11" y1="353.20" x2="116.11" y2="356.80" stroke="#2a2a2a" stroke-width="1"/>
<line x1="123.72" y1="353.20" x2="123.72" y2="356.80" stroke="#2a2a2a" stroke-width="1"/>
<line x1="131.33" y1="353.20" x2="131.33" y2="356.80" stroke="#2a2a2a" stroke-width="1"/>
<line x1="138.94" y1="353.20" x2="138.94" y2="356.80" stroke="#2a2a2a" stroke-width="1"/>
<line x1="146.55" y1="353.20" x2="146.55" y2="356.80" stroke="#2a2a2a" stroke-width="1"/>
<line x1="154.16" y1="353.20" x2="154.16" y2="356.80" stroke="#2a2a2a" stroke-width="1"/>
<line x1="161.77" y1="353.20" x2="161.77" y2="356.80" stroke="#2a2a2a" stroke-width="1"/>
<line x1="169.38" y1="353.20" x2="169.38" y2="356.80" stroke="#2a2a2a" stroke-width="1"/>
<line x1="176.99" y1="353.20" x2="176.99" y2="356.80" stroke="#2a2a2a" stroke-width="1"/>
<line x1="184.59" y1="353.20" x2="184.59" y2="356.80" stroke="#2a2a2a" stroke-width="1"/>
<line x1="192.20" y1="353.20" x2="192.20" y2="356.80" stroke="#2a2a2a" stroke-width="1"/>
<line x1="199.81" y1="353.20" x2="199.81" y2="356.80" stroke="#2a2a2a" stroke-width="1"/>
<line x1="207.42" y1="353.20" x2="207.42" y2="356.80" stroke="#2a2a2a" stroke-width="1"/>
<line x1="215.03" y1="353.20" x2="215.03" y2="356.80" stroke="#2a2a2a" stroke-width="1"/>
<line x1="222.64" y1="353.20" x2="222.64" y2="356.80" stroke="#2a2a2a" stroke-width="1"/>
<line x1="230.25" y1="353.20" x2="230.25" y2="356.80" stroke="#2a2a2a" stroke-width="1"/>
<line x1="237.86" y1="353.20" x2="237.86" y2="356.80" stroke="#2a2a2a" stroke-width="1"/>
<line x1="245.47" y1="353.20" x2="245.47" y2="356.80" stroke="#2a2a2a" stroke-width="1"/>
<line x1="253.07" y1="353.20" x2="253.07" y2="356.80" stroke="#2a2a2a" stroke-width="1"/>
<line x1="260.68" y1="353.20" x2="260.68" y2="356.80" stroke="#2a2a2a" stroke-width="1"/>
<line x1="268.29" y1="353.20" x2="268.29" y2="356.80" stroke="#2a2a2a" stroke-width="1"/>
<line x1="275.90" y1="353.20" x2="275.90" y2="356.80" stroke="#2a2a2a" stroke-width="1"/>
<line x1="283.51" y1="353.20" x2="283.51" y2="356.80" stroke="#2a2a2a" stroke-width="1"/>
<line x1="291.12" y1="353.20" x2="291.12" y2="356.80" stroke="#2a2a2a" stroke-width="1"/>
<line x1="298.73" y1="353.20" x2="298.73" y2="356.80" stroke="#2a2a2a" stroke-width="1"/>
<line x1="306.34" y1="353.20" x2="306.34" y2="356.80" stroke="#2a2a2a" stroke-width="1"/>
<line x1="313.95" y1="353.20" x2="313.95" y2="356.80" stroke="#2a2a2a" stroke-width="1"/>
<line x1="321.56" y1="353.20" x2="321.56" y2="356.80" stroke="#2a2a2a" stroke-width="1"/>
<line x1="329.17" y1="353.20" x2="329.17" y2="356.80" stroke="#2a2a2a" stroke-width="1"/>
<line x1="336.77" y1="353.20" x2="336.77" y2="356.80" stroke="#2a2a2a" stroke-width="1"/>
<line x1="344.38" y1="353.20" x2="344.38" y2="356.80" stroke="#2a2a2a" stroke-width="1"/>
<line x1="351.99" y1="353.20" x2="351.99" y2="356.80" stroke="#2a2a2a" stroke-width="1"/>
<line x1="359.60" y1="353.20" x2="359.60" y2="356.80" stroke="#2a2a2a" stroke-width="1"/>
<line x1="367.21" y1="353.20" x2="367.21" y2="356.80" stroke="#2a2a2a" stroke-width="1"/>
<line x1="374.82" y1="353.20" x2="374.82" y2="356.80" stroke="#2a2a2a" stroke-width="1"/>
<line x1="382.43" y1="353.20" x2="382.43" y2="356.80" stroke="#2a2a2a" stroke-width="1"/>
<line x1="390.04" y1="353.20" x2="390.04" y2="356.80" stroke="#2a2a2a" stroke-width="1"/>
<line x1="397.65" y1="353.20" x2="397.65" y2="356.80" stroke="#2a2a2a" stroke-width="1"/>
<line x1="405.25" y1="353.20" x2="405.25" y2="356.80" stroke="#2a2a2a" stroke-width="1"/>
<line x1="412.86" y1="353.20" x2="412.86" y2="356.80" stroke="#2a2a2a" stroke-width="1"/>
<line x1="420.47" y1="353.20" x2="420.47" y2="356.80" stroke="#2a2a2a" stroke-width="1"/>
<line x1="428.08" y1="353.20" x2="428.08" y2="356.80" stroke="#2a2a2a" stroke-width="1"/>
<line x1="435.69" y1="353.20" x2="435.69" y2="356.80" stroke="#2a2a2a" stroke-width="1"/>
<line x1="443.30" y1="353.20" x2="443.30" y2="356.80" stroke="#2a2a2a" stroke-width="1"/>
<line x1="450.91" y1="353.20" x2="450.91" y2="356.80" stroke="#2a2a2a" stroke-width="1"/>
<line x1="55.60" y1="351.90" x2="58.50" y2="351.90" stroke="#2a2a2a" stroke-width="1"/>
<text x="48.40" y="355.20" font-size="8.6" text-anchor="end" font-weight="normal" fill="#222">10</text>
<text x="48.40" y="351.60" font-size="6.1" text-anchor="start" font-weight="normal" fill="#222">0</text>
<line x1="55.60" y1="344.42" x2="58.50" y2="344.42" stroke="#2a2a2a" stroke-width="1"/>
<text x="48.40" y="347.72" font-size="8.6" text-anchor="end" font-weight="normal" fill="#222">10</text>
<text x="48.40" y="344.12" font-size="6.1" text-anchor="start" font-weight="normal" fill="#222">1</text>
<line x1="55.60" y1="336.94" x2="58.50" y2="336.94" stroke="#2a2a2a" stroke-width="1"/>
<text x="48.40" y="340.24" font-size="8.6" text-anchor="end" font-weight="normal" fill="#222">10</text>
<text x="48.40" y="336.64" font-size="6.1" text-anchor="start" font-weight="normal" fill="#222">2</text>
<line x1="55.60" y1="329.46" x2="58.50" y2="329.46" stroke="#2a2a2a" stroke-width="1"/>
<text x="48.40" y="332.76" font-size="8.6" text-anchor="end" font-weight="normal" fill="#222">10</text>
<text x="48.40" y="329.16" font-size="6.1" text-anchor="start" font-weight="normal" fill="#222">3</text>
<line x1="55.60" y1="321.98" x2="58.50" y2="321.98" stroke="#2a2a2a" stroke-width="1"/>
<text x="48.40" y="325.28" font-size="8.6" text-anchor="end" font-weight="normal" fill="#222">10</text>
<text x="48.40" y="321.68" font-size="6.1" text-anchor="start" font-weight="normal" fill="#222">4</text>
<line x1="55.60" y1="314.50" x2="58.50" y2="314.50" stroke="#2a2a2a" stroke-width="1"/>
<text x="48.40" y="317.80" font-size="8.6" text-anchor="end" font-weight="normal" fill="#222">10</text>
<text x="48.40" y="314.20" font-size="6.1" text-anchor="start" font-weight="normal" fill="#222">5</text>
<text x="0" y="0" transform="translate(29.20 333.00) rotate(-90)" font-size="11" text-anchor="middle" font-weight="normal" fill="#222" textLength="39" lengthAdjust="spacingAndGlyphs" stroke="#222" stroke-width="0.25">SNV burden</text>
<rect x="59.80" y="369.40" width="6.10" height="120.30" fill="#3aa83a"/>
<rect x="67.41" y="369.40" width="6.10" height="120.30" fill="#3aa83a"/>
<rect x="67.41" y="431.11" width="6.10" height="58.59" fill="#c8700e"/>
<rect x="67.41" y="397.79" width="6.10" height="33.32" fill="#1a4a8c"/>
<rect x="75.02" y="369.40" width="6.10" height="120.30" fill="#3aa83a"/>
<rect x="75.02" y="417.40" width="6.10" height="72.30" fill="#c8700e"/>
<rect x="75.02" y="406.81" width="6.10" height="10.59" fill="#f8c000"/>
<rect x="82.63" y="369.40" width="6.10" height="120.30" fill="#3aa83a"/>
<rect x="82.63" y="400.32" width="6.10" height="89.38" fill="#c8700e"/>
<rect x="90.24" y="369.40" width="6.10" height="120.30" fill="#3aa83a"/>
<rect x="90.24" y="438.09" width="6.10" height="51.61" fill="#c8700e"/>
<rect x="90.24" y="401.88" width="6.10" height="36.21" fill="#1a4a8c"/>
<rect x="97.85" y="369.40" width="6.10" height="120.30" fill="#3aa83a"/>
<rect x="97.85" y="415.35" width="6.10" height="74.35" fill="#c8700e"/>
<rect x="97.85" y="387.32" width="6.10" height="28.03" fill="#1a4a8c"/>
<rect x="105.45" y="369.40" width="6.10" height="120.30" fill="#3aa83a"/>
<rect x="105.45" y="387.81" width="6.10" height="101.89" fill="#c8700e"/>
<rect x="113.06" y="369.40" width="6.10" height="120.30" fill="#3aa83a"/>
<rect x="113.06" y="393.58" width="6.10" height="96.12" fill="#c8700e"/>
<rect x="120.67" y="369.40" width="6.10" height="120.30" fill="#3aa83a"/>
<rect x="120.67" y="419.32" width="6.10" height="70.38" fill="#c8700e"/>
<rect x="120.67" y="393.58" width="6.10" height="25.74" fill="#f0900a"/>
<rect x="128.28" y="369.40" width="6.10" height="120.30" fill="#3aa83a"/>
<rect x="128.28" y="398.63" width="6.10" height="91.07" fill="#c8700e"/>
<rect x="135.89" y="369.40" width="6.10" height="120.30" fill="#3aa83a"/>
<rect x="135.89" y="433.52" width="6.10" height="56.18" fill="#c8700e"/>
<rect x="135.89" y="394.06" width="6.10" height="39.46" fill="#f0900a"/>
<rect x="143.50" y="369.40" width="6.10" height="120.30" fill="#3aa83a"/>
<rect x="143.50" y="433.04" width="6.10" height="56.66" fill="#c8700e"/>
<rect x="143.50" y="406.09" width="6.10" height="26.95" fill="#1a4a8c"/>
<rect x="151.11" y="369.40" width="6.10" height="120.30" fill="#3aa83a"/>
<rect x="151.11" y="422.69" width="6.10" height="67.01" fill="#c8700e"/>
<rect x="151.11" y="401.04" width="6.10" height="21.65" fill="#f0900a"/>
<rect x="158.72" y="369.40" width="6.10" height="120.30" fill="#3aa83a"/>
<rect x="158.72" y="393.58" width="6.10" height="96.12" fill="#c8700e"/>
<rect x="166.33" y="369.40" width="6.10" height="120.30" fill="#3aa83a"/>
<rect x="166.33" y="426.78" width="6.10" height="62.92" fill="#c8700e"/>
<rect x="166.33" y="394.30" width="6.10" height="32.48" fill="#f0900a"/>
<rect x="173.94" y="369.40" width="6.10" height="120.30" fill="#3aa83a"/>
<rect x="173.94" y="419.08" width="6.10" height="70.62" fill="#c8700e"/>
<rect x="173.94" y="401.04" width="6.10" height="18.05" fill="#f0900a"/>
<rect x="181.54" y="369.40" width="6.10" height="120.30" fill="#3aa83a"/>
<rect x="181.54" y="412.83" width="6.10" height="76.87" fill="#c8700e"/>
<rect x="181.54" y="394.06" width="6.10" height="18.77" fill="#f0900a"/>
<rect x="189.15" y="369.40" width="6.10" height="120.30" fill="#3aa83a"/>
<rect x="189.15" y="398.63" width="6.10" height="91.07" fill="#c8700e"/>
<rect x="196.76" y="369.40" width="6.10" height="120.30" fill="#3aa83a"/>
<rect x="196.76" y="411.87" width="6.10" height="77.83" fill="#c8700e"/>
<rect x="204.37" y="369.40" width="6.10" height="120.30" fill="#3aa83a"/>
<rect x="204.37" y="431.60" width="6.10" height="58.10" fill="#c8700e"/>
<rect x="204.37" y="402.84" width="6.10" height="28.75" fill="#1a4a8c"/>
<rect x="211.98" y="369.40" width="6.10" height="120.30" fill="#3aa83a"/>
<rect x="211.98" y="391.78" width="6.10" height="97.92" fill="#c8700e"/>
<rect x="219.59" y="369.40" width="6.10" height="120.30" fill="#3aa83a"/>
<rect x="219.59" y="444.23" width="6.10" height="45.47" fill="#c8700e"/>
<rect x="219.59" y="407.78" width="6.10" height="36.45" fill="#1a4a8c"/>
<rect x="227.20" y="369.40" width="6.10" height="120.30" fill="#3aa83a"/>
<rect x="227.20" y="412.35" width="6.10" height="77.35" fill="#c8700e"/>
<rect x="234.81" y="369.40" width="6.10" height="120.30" fill="#3aa83a"/>
<rect x="234.81" y="421.01" width="6.10" height="68.69" fill="#c8700e"/>
<rect x="234.81" y="399.84" width="6.10" height="21.17" fill="#f0900a"/>
<rect x="242.42" y="369.40" width="6.10" height="120.30" fill="#3aa83a"/>
<rect x="242.42" y="420.29" width="6.10" height="69.41" fill="#c8700e"/>
<rect x="242.42" y="385.64" width="6.10" height="34.65" fill="#e0107a"/>
<rect x="250.02" y="369.40" width="6.10" height="120.30" fill="#3aa83a"/>
<rect x="250.02" y="398.63" width="6.10" height="91.07" fill="#c8700e"/>
<rect x="257.63" y="369.40" width="6.10" height="120.30" fill="#3aa83a"/>
<rect x="257.63" y="408.02" width="6.10" height="81.68" fill="#c8700e"/>
<rect x="265.24" y="369.40" width="6.10" height="120.30" fill="#3aa83a"/>
<rect x="265.24" y="412.35" width="6.10" height="77.35" fill="#c8700e"/>
<rect x="272.85" y="369.40" width="6.10" height="120.30" fill="#3aa83a"/>
<rect x="272.85" y="395.26" width="6.10" height="94.44" fill="#c8700e"/>
<rect x="280.46" y="369.40" width="6.10" height="120.30" fill="#3aa83a"/>
<rect x="280.46" y="419.32" width="6.10" height="70.38" fill="#c8700e"/>
<rect x="280.46" y="385.64" width="6.10" height="33.68" fill="#f0900a"/>
<rect x="288.07" y="369.40" width="6.10" height="120.30" fill="#3aa83a"/>
<rect x="288.07" y="415.35" width="6.10" height="74.35" fill="#c8700e"/>
<rect x="288.07" y="400.32" width="6.10" height="15.04" fill="#f0900a"/>
<rect x="288.07" y="387.32" width="6.10" height="12.99" fill="#561c6c"/>
<rect x="295.68" y="369.40" width="6.10" height="120.30" fill="#3aa83a"/>
<rect x="295.68" y="397.79" width="6.10" height="91.91" fill="#c8700e"/>
<rect x="303.29" y="369.40" width="6.10" height="120.30" fill="#3aa83a"/>
<rect x="303.29" y="396.59" width="6.10" height="93.11" fill="#c8700e"/>
<rect x="310.90" y="369.40" width="6.10" height="120.30" fill="#3aa83a"/>
<rect x="310.90" y="396.59" width="6.10" height="93.11" fill="#c8700e"/>
<rect x="318.51" y="369.40" width="6.10" height="120.30" fill="#3aa83a"/>
<rect x="318.51" y="395.26" width="6.10" height="94.44" fill="#c8700e"/>
<rect x="326.12" y="369.40" width="6.10" height="120.30" fill="#3aa83a"/>
<rect x="326.12" y="399.35" width="6.10" height="90.35" fill="#c8700e"/>
<rect x="333.72" y="369.40" width="6.10" height="120.30" fill="#3aa83a"/>
<rect x="333.72" y="413.07" width="6.10" height="76.63" fill="#c8700e"/>
<rect x="333.72" y="394.78" width="6.10" height="18.29" fill="#f0900a"/>
<rect x="341.33" y="369.40" width="6.10" height="120.30" fill="#3aa83a"/>
<rect x="341.33" y="444.71" width="6.10" height="44.99" fill="#c8700e"/>
<rect x="341.33" y="394.30" width="6.10" height="50.41" fill="#e0107a"/>
<rect x="341.33" y="377.94" width="6.10" height="16.36" fill="#1a4a8c"/>
<rect x="348.94" y="369.40" width="6.10" height="120.30" fill="#3aa83a"/>
<rect x="348.94" y="447.72" width="6.10" height="41.98" fill="#c8700e"/>
<rect x="348.94" y="396.83" width="6.10" height="50.89" fill="#1a4a8c"/>
<rect x="356.55" y="369.40" width="6.10" height="120.30" fill="#3aa83a"/>
<rect x="356.55" y="439.05" width="6.10" height="50.65" fill="#c8700e"/>
<rect x="356.55" y="381.07" width="6.10" height="57.98" fill="#1a4a8c"/>
<rect x="364.16" y="369.40" width="6.10" height="120.30" fill="#3aa83a"/>
<rect x="364.16" y="399.84" width="6.10" height="89.86" fill="#c8700e"/>
<rect x="371.77" y="369.40" width="6.10" height="120.30" fill="#3aa83a"/>
<rect x="371.77" y="429.07" width="6.10" height="60.63" fill="#c8700e"/>
<rect x="371.77" y="404.77" width="6.10" height="24.30" fill="#f0900a"/>
<rect x="379.38" y="369.40" width="6.10" height="120.30" fill="#3aa83a"/>
<rect x="379.38" y="399.84" width="6.10" height="89.86" fill="#c8700e"/>
<rect x="386.99" y="369.40" width="6.10" height="120.30" fill="#3aa83a"/>
<rect x="386.99" y="399.84" width="6.10" height="89.86" fill="#c8700e"/>
<rect x="394.60" y="369.40" width="6.10" height="120.30" fill="#3aa83a"/>
<rect x="394.60" y="390.33" width="6.10" height="99.37" fill="#c8700e"/>
<rect x="402.20" y="369.40" width="6.10" height="120.30" fill="#3aa83a"/>
<rect x="402.20" y="424.74" width="6.10" height="64.96" fill="#c8700e"/>
<rect x="402.20" y="395.63" width="6.10" height="29.11" fill="#1a4a8c"/>
<rect x="409.81" y="369.40" width="6.10" height="120.30" fill="#3aa83a"/>
<rect x="409.81" y="435.56" width="6.10" height="54.13" fill="#c8700e"/>
<rect x="409.81" y="391.78" width="6.10" height="43.79" fill="#1a4a8c"/>
<rect x="417.42" y="369.40" width="6.10" height="120.30" fill="#3aa83a"/>
<rect x="417.42" y="403.57" width="6.10" height="86.13" fill="#c8700e"/>
<rect x="417.42" y="381.07" width="6.10" height="22.50" fill="#e0107a"/>
<rect x="425.03" y="369.40" width="6.10" height="120.30" fill="#3aa83a"/>
<rect x="425.03" y="440.98" width="6.10" height="48.72" fill="#c8700e"/>
<rect x="425.03" y="413.55" width="6.10" height="27.43" fill="#e0107a"/>
<rect x="425.03" y="386.12" width="6.10" height="27.43" fill="#1a4a8c"/>
<rect x="432.64" y="369.40" width="6.10" height="120.30" fill="#3aa83a"/>
<rect x="432.64" y="423.53" width="6.10" height="66.17" fill="#c8700e"/>
<rect x="432.64" y="401.04" width="6.10" height="22.50" fill="#1a4a8c"/>
<rect x="440.25" y="369.40" width="6.10" height="120.30" fill="#3aa83a"/>
<rect x="440.25" y="413.55" width="6.10" height="76.15" fill="#c8700e"/>
<rect x="440.25" y="390.33" width="6.10" height="23.22" fill="#1a4a8c"/>
<rect x="447.86" y="369.40" width="6.10" height="120.30" fill="#3aa83a"/>
<rect x="447.86" y="388.17" width="6.10" height="101.53" fill="#c8700e"/>
<line x1="58.00" y1="365.80" x2="58.00" y2="490.50" stroke="#2a2a2a" stroke-width="1"/>
<line x1="57.50" y1="490.00" x2="454.60" y2="490.00" stroke="#2a2a2a" stroke-width="1"/>
<line x1="62.85" y1="490.00" x2="62.85" y2="493.60" stroke="#2a2a2a" stroke-width="1"/>
<line x1="70.46" y1="490.00" x2="70.46" y2="493.60" stroke="#2a2a2a" stroke-width="1"/>
<line x1="78.07" y1="490.00" x2="78.07" y2="493.60" stroke="#2a2a2a" stroke-width="1"/>
<line x1="85.68" y1="490.00" x2="85.68" y2="493.60" stroke="#2a2a2a" stroke-width="1"/>
<line x1="93.29" y1="490.00" x2="93.29" y2="493.60" stroke="#2a2a2a" stroke-width="1"/>
<line x1="100.90" y1="490.00" x2="100.90" y2="493.60" stroke="#2a2a2a" stroke-width="1"/>
<line x1="108.50" y1="490.00" x2="108.50" y2="493.60" stroke="#2a2a2a" stroke-width="1"/>
<line x1="116.11" y1="490.00" x2="116.11" y2="493.60" stroke="#2a2a2a" stroke-width="1"/>
<line x1="123.72" y1="490.00" x2="123.72" y2="493.60" stroke="#2a2a2a" stroke-width="1"/>
<line x1="131.33" y1="490.00" x2="131.33" y2="493.60" stroke="#2a2a2a" stroke-width="1"/>
<line x1="138.94" y1="490.00" x2="138.94" y2="493.60" stroke="#2a2a2a" stroke-width="1"/>
<line x1="146.55" y1="490.00" x2="146.55" y2="493.60" stroke="#2a2a2a" stroke-width="1"/>
<line x1="154.16" y1="490.00" x2="154.16" y2="493.60" stroke="#2a2a2a" stroke-width="1"/>
<line x1="161.77" y1="490.00" x2="161.77" y2="493.60" stroke="#2a2a2a" stroke-width="1"/>
<line x1="169.38" y1="490.00" x2="169.38" y2="493.60" stroke="#2a2a2a" stroke-width="1"/>
<line x1="176.99" y1="490.00" x2="176.99" y2="493.60" stroke="#2a2a2a" stroke-width="1"/>
<line x1="184.59" y1="490.00" x2="184.59" y2="493.60" stroke="#2a2a2a" stroke-width="1"/>
<line x1="192.20" y1="490.00" x2="192.20" y2="493.60" stroke="#2a2a2a" stroke-width="1"/>
<line x1="199.81" y1="490.00" x2="199.81" y2="493.60" stroke="#2a2a2a" stroke-width="1"/>
<line x1="207.42" y1="490.00" x2="207.42" y2="493.60" stroke="#2a2a2a" stroke-width="1"/>
<line x1="215.03" y1="490.00" x2="215.03" y2="493.60" stroke="#2a2a2a" stroke-width="1"/>
<line x1="222.64" y1="490.00" x2="222.64" y2="493.60" stroke="#2a2a2a" stroke-width="1"/>
<line x1="230.25" y1="490.00" x2="230.25" y2="493.60" stroke="#2a2a2a" stroke-width="1"/>
<line x1="237.86" y1="490.00" x2="237.86" y2="493.60" stroke="#2a2a2a" stroke-width="1"/>
<line x1="245.47" y1="490.00" x2="245.47" y2="493.60" stroke="#2a2a2a" stroke-width="1"/>
<line x1="253.07" y1="490.00" x2="253.07" y2="493.60" stroke="#2a2a2a" stroke-width="1"/>
<line x1="260.68" y1="490.00" x2="260.68" y2="493.60" stroke="#2a2a2a" stroke-width="1"/>
<line x1="268.29" y1="490.00" x2="268.29" y2="493.60" stroke="#2a2a2a" stroke-width="1"/>
<line x1="275.90" y1="490.00" x2="275.90" y2="493.60" stroke="#2a2a2a" stroke-width="1"/>
<line x1="283.51" y1="490.00" x2="283.51" y2="493.60" stroke="#2a2a2a" stroke-width="1"/>
<line x1="291.12" y1="490.00" x2="291.12" y2="493.60" stroke="#2a2a2a" stroke-width="1"/>
<line x1="298.73" y1="490.00" x2="298.73" y2="493.60" stroke="#2a2a2a" stroke-width="1"/>
<line x1="306.34" y1="490.00" x2="306.34" y2="493.60" stroke="#2a2a2a" stroke-width="1"/>
<line x1="313.95" y1="490.00" x2="313.95" y2="493.60" stroke="#2a2a2a" stroke-width="1"/>
<line x1="321.56" y1="490.00" x2="321.56" y2="493.60" stroke="#2a2a2a" stroke-width="1"/>
<line x1="329.17" y1="490.00" x2="329.17" y2="493.60" stroke="#2a2a2a" stroke-width="1"/>
<line x1="336.77" y1="490.00" x2="336.77" y2="493.60" stroke="#2a2a2a" stroke-width="1"/>
<line x1="344.38" y1="490.00" x2="344.38" y2="493.60" stroke="#2a2a2a" stroke-width="1"/>
<line x1="351.99" y1="490.00" x2="351.99" y2="493.60" stroke="#2a2a2a" stroke-width="1"/>
<line x1="359.60" y1="490.00" x2="359.60" y2="493.60" stroke="#2a2a2a" stroke-width="1"/>
<line x1="367.21" y1="490.00" x2="367.21" y2="493.60" stroke="#2a2a2a" stroke-width="1"/>
<line x1="374.82" y1="490.00" x2="374.82" y2="493.60" stroke="#2a2a2a" stroke-width="1"/>
<line x1="382.43" y1="490.00" x2="382.43" y2="493.60" stroke="#2a2a2a" stroke-width="1"/>
<line x1="390.04" y1="490.00" x2="390.04" y2="493.60" stroke="#2a2a2a" stroke-width="1"/>
<line x1="397.65" y1="490.00" x2="397.65" y2="493.60" stroke="#2a2a2a" stroke-width="1"/>
<line x1="405.25" y1="490.00" x2="405.25" y2="493.60" stroke="#2a2a2a" stroke-width="1"/>
<line x1="412.86" y1="490.00" x2="412.86" y2="493.60" stroke="#2a2a2a" stroke-width="1"/>
<line x1="420.47" y1="490.00" x2="420.47" y2="493.60" stroke="#2a2a2a" stroke-width="1"/>
<line x1="428.08" y1="490.00" x2="428.08" y2="493.60" stroke="#2a2a2a" stroke-width="1"/>
<line x1="435.69" y1="490.00" x2="435.69" y2="493.60" stroke="#2a2a2a" stroke-width="1"/>
<line x1="443.30" y1="490.00" x2="443.30" y2="493.60" stroke="#2a2a2a" stroke-width="1"/>
<line x1="450.91" y1="490.00" x2="450.91" y2="493.60" stroke="#2a2a2a" stroke-width="1"/>
<line x1="55.00" y1="369.70" x2="58.00" y2="369.70" stroke="#2a2a2a" stroke-width="1"/>
<text x="51.60" y="372.60" font-size="8.3" text-anchor="end" font-weight="normal" fill="#222" textLength="17.12" lengthAdjust="spacingAndGlyphs">1.00</text>
<line x1="55.00" y1="399.78" x2="58.00" y2="399.78" stroke="#2a2a2a" stroke-width="1"/>
<text x="51.60" y="402.68" font-size="8.3" text-anchor="end" font-weight="normal" fill="#222" textLength="17.12" lengthAdjust="spacingAndGlyphs">0.75</text>
<line x1="55.00" y1="429.85" x2="58.00" y2="429.85" stroke="#2a2a2a" stroke-width="1"/>
<text x="51.60" y="432.75" font-size="8.3" text-anchor="end" font-weight="normal" fill="#222" textLength="17.12" lengthAdjust="spacingAndGlyphs">0.50</text>
<line x1="55.00" y1="459.93" x2="58.00" y2="459.93" stroke="#2a2a2a" stroke-width="1"/>
<text x="51.60" y="462.82" font-size="8.3" text-anchor="end" font-weight="normal" fill="#222" textLength="17.12" lengthAdjust="spacingAndGlyphs">0.25</text>
<line x1="55.00" y1="490.00" x2="58.00" y2="490.00" stroke="#2a2a2a" stroke-width="1"/>
<text x="51.60" y="492.90" font-size="8.3" text-anchor="end" font-weight="normal" fill="#222" textLength="17.12" lengthAdjust="spacingAndGlyphs">0.00</text>
<text x="0" y="0" transform="translate(29.20 428.00) rotate(-90)" font-size="11" text-anchor="middle" font-weight="normal" fill="#222" textLength="71" lengthAdjust="spacingAndGlyphs" stroke="#222" stroke-width="0.25">Signature contribution</text>
<text x="0" y="0" transform="translate(65.95 534.30) rotate(-90)" font-size="9.0" text-anchor="start" font-weight="normal" fill="#333" textLength="37.4" lengthAdjust="spacingAndGlyphs">PD40812</text>
<text x="0" y="0" transform="translate(73.56 534.30) rotate(-90)" font-size="9.0" text-anchor="start" font-weight="normal" fill="#333" textLength="37.4" lengthAdjust="spacingAndGlyphs">PD37193</text>
<text x="0" y="0" transform="translate(81.17 534.30) rotate(-90)" font-size="9.0" text-anchor="start" font-weight="normal" fill="#333" textLength="37.4" lengthAdjust="spacingAndGlyphs">PD40815</text>
<text x="0" y="0" transform="translate(88.78 534.30) rotate(-90)" font-size="9.0" text-anchor="start" font-weight="normal" fill="#333" textLength="37.4" lengthAdjust="spacingAndGlyphs">PD40804</text>
<text x="0" y="0" transform="translate(96.39 534.30) rotate(-90)" font-size="9.0" text-anchor="start" font-weight="normal" fill="#333" textLength="37.4" lengthAdjust="spacingAndGlyphs">PD40800</text>
<text x="0" y="0" transform="translate(104.00 534.30) rotate(-90)" font-size="9.0" text-anchor="start" font-weight="normal" fill="#333" textLength="37.4" lengthAdjust="spacingAndGlyphs">PD40811</text>
<text x="0" y="0" transform="translate(111.60 534.30) rotate(-90)" font-size="9.0" text-anchor="start" font-weight="normal" fill="#333" textLength="37.4" lengthAdjust="spacingAndGlyphs">PD37188</text>
<text x="0" y="0" transform="translate(119.21 534.30) rotate(-90)" font-size="9.0" text-anchor="start" font-weight="normal" fill="#333" textLength="37.4" lengthAdjust="spacingAndGlyphs">PD37189</text>
<text x="0" y="0" transform="translate(126.82 534.30) rotate(-90)" font-size="9.0" text-anchor="start" font-weight="normal" fill="#333" textLength="37.4" lengthAdjust="spacingAndGlyphs">PD40807</text>
<text x="0" y="0" transform="translate(134.43 534.30) rotate(-90)" font-size="9.0" text-anchor="start" font-weight="normal" fill="#333" textLength="37.4" lengthAdjust="spacingAndGlyphs">PD40806</text>
<text x="0" y="0" transform="translate(142.04 534.30) rotate(-90)" font-size="9.0" text-anchor="start" font-weight="normal" fill="#333" textLength="37.4" lengthAdjust="spacingAndGlyphs">PD40805</text>
<text x="0" y="0" transform="translate(149.65 534.30) rotate(-90)" font-size="9.0" text-anchor="start" font-weight="normal" fill="#333" textLength="37.4" lengthAdjust="spacingAndGlyphs">PD37196</text>
<text x="0" y="0" transform="translate(157.26 534.30) rotate(-90)" font-size="9.0" text-anchor="start" font-weight="normal" fill="#333" textLength="37.4" lengthAdjust="spacingAndGlyphs">PD40828</text>
<text x="0" y="0" transform="translate(164.87 534.30) rotate(-90)" font-size="9.0" text-anchor="start" font-weight="normal" fill="#333" textLength="37.4" lengthAdjust="spacingAndGlyphs">PD37187</text>
<text x="0" y="0" transform="translate(172.48 534.30) rotate(-90)" font-size="9.0" text-anchor="start" font-weight="normal" fill="#333" textLength="37.4" lengthAdjust="spacingAndGlyphs">PD40823</text>
<text x="0" y="0" transform="translate(180.09 534.30) rotate(-90)" font-size="9.0" text-anchor="start" font-weight="normal" fill="#333" textLength="37.4" lengthAdjust="spacingAndGlyphs">PD40819</text>
<text x="0" y="0" transform="translate(187.69 534.30) rotate(-90)" font-size="9.0" text-anchor="start" font-weight="normal" fill="#333" textLength="37.4" lengthAdjust="spacingAndGlyphs">PD37190</text>
<text x="0" y="0" transform="translate(195.30 534.30) rotate(-90)" font-size="9.0" text-anchor="start" font-weight="normal" fill="#333" textLength="37.4" lengthAdjust="spacingAndGlyphs">PD40802</text>
<text x="0" y="0" transform="translate(202.91 534.30) rotate(-90)" font-size="9.0" text-anchor="start" font-weight="normal" fill="#333" textLength="37.4" lengthAdjust="spacingAndGlyphs">PD40825</text>
<text x="0" y="0" transform="translate(210.52 534.30) rotate(-90)" font-size="9.0" text-anchor="start" font-weight="normal" fill="#333" textLength="37.4" lengthAdjust="spacingAndGlyphs">PD43262</text>
<text x="0" y="0" transform="translate(218.13 534.30) rotate(-90)" font-size="9.0" text-anchor="start" font-weight="normal" fill="#333" textLength="37.4" lengthAdjust="spacingAndGlyphs">PD37186</text>
<text x="0" y="0" transform="translate(225.74 534.30) rotate(-90)" font-size="9.0" text-anchor="start" font-weight="normal" fill="#333" textLength="37.4" lengthAdjust="spacingAndGlyphs">PD43264</text>
<text x="0" y="0" transform="translate(233.35 534.30) rotate(-90)" font-size="9.0" text-anchor="start" font-weight="normal" fill="#333" textLength="37.4" lengthAdjust="spacingAndGlyphs">PD43267</text>
<text x="0" y="0" transform="translate(240.96 534.30) rotate(-90)" font-size="9.0" text-anchor="start" font-weight="normal" fill="#333" textLength="37.4" lengthAdjust="spacingAndGlyphs">PD37192</text>
<text x="0" y="0" transform="translate(248.57 534.30) rotate(-90)" font-size="9.0" text-anchor="start" font-weight="normal" fill="#333" textLength="37.4" lengthAdjust="spacingAndGlyphs">PD43260</text>
<text x="0" y="0" transform="translate(256.18 534.30) rotate(-90)" font-size="9.0" text-anchor="start" font-weight="normal" fill="#333" textLength="37.4" lengthAdjust="spacingAndGlyphs">PD40798</text>
<text x="0" y="0" transform="translate(263.78 534.30) rotate(-90)" font-size="9.0" text-anchor="start" font-weight="normal" fill="#333" textLength="37.4" lengthAdjust="spacingAndGlyphs">PD40799</text>
<text x="0" y="0" transform="translate(271.39 534.30) rotate(-90)" font-size="9.0" text-anchor="start" font-weight="normal" fill="#333" textLength="37.4" lengthAdjust="spacingAndGlyphs">PD40801</text>
<text x="0" y="0" transform="translate(279.00 534.30) rotate(-90)" font-size="9.0" text-anchor="start" font-weight="normal" fill="#333" textLength="37.4" lengthAdjust="spacingAndGlyphs">PD40816</text>
<text x="0" y="0" transform="translate(286.61 534.30) rotate(-90)" font-size="9.0" text-anchor="start" font-weight="normal" fill="#333" textLength="37.4" lengthAdjust="spacingAndGlyphs">PD40810</text>
<text x="0" y="0" transform="translate(294.22 534.30) rotate(-90)" font-size="9.0" text-anchor="start" font-weight="normal" fill="#333" textLength="37.4" lengthAdjust="spacingAndGlyphs">PD40832</text>
<text x="0" y="0" transform="translate(301.83 534.30) rotate(-90)" font-size="9.0" text-anchor="start" font-weight="normal" fill="#333" textLength="37.4" lengthAdjust="spacingAndGlyphs">PD40813</text>
<text x="0" y="0" transform="translate(309.44 534.30) rotate(-90)" font-size="9.0" text-anchor="start" font-weight="normal" fill="#333" textLength="37.4" lengthAdjust="spacingAndGlyphs">PD40808</text>
<text x="0" y="0" transform="translate(317.05 534.30) rotate(-90)" font-size="9.0" text-anchor="start" font-weight="normal" fill="#333" textLength="37.4" lengthAdjust="spacingAndGlyphs">PD40820</text>
<text x="0" y="0" transform="translate(324.66 534.30) rotate(-90)" font-size="9.0" text-anchor="start" font-weight="normal" fill="#333" textLength="37.4" lengthAdjust="spacingAndGlyphs">PD40824</text>
<text x="0" y="0" transform="translate(332.27 534.30) rotate(-90)" font-size="9.0" text-anchor="start" font-weight="normal" fill="#333" textLength="37.4" lengthAdjust="spacingAndGlyphs">PD40809</text>
<text x="0" y="0" transform="translate(339.87 534.30) rotate(-90)" font-size="9.0" text-anchor="start" font-weight="normal" fill="#333" textLength="37.4" lengthAdjust="spacingAndGlyphs">PD40814</text>
<text x="0" y="0" transform="translate(347.48 534.30) rotate(-90)" font-size="9.0" text-anchor="start" font-weight="normal" fill="#333" textLength="37.4" lengthAdjust="spacingAndGlyphs">PD40797</text>
<text x="0" y="0" transform="translate(355.09 534.30) rotate(-90)" font-size="9.0" text-anchor="start" font-weight="normal" fill="#333" textLength="37.4" lengthAdjust="spacingAndGlyphs">PD37198</text>
<text x="0" y="0" transform="translate(362.70 534.30) rotate(-90)" font-size="9.0" text-anchor="start" font-weight="normal" fill="#333" textLength="37.4" lengthAdjust="spacingAndGlyphs">PD37197</text>
<text x="0" y="0" transform="translate(370.31 534.30) rotate(-90)" font-size="9.0" text-anchor="start" font-weight="normal" fill="#333" textLength="37.4" lengthAdjust="spacingAndGlyphs">PD43259</text>
<text x="0" y="0" transform="translate(377.92 534.30) rotate(-90)" font-size="9.0" text-anchor="start" font-weight="normal" fill="#333" textLength="37.4" lengthAdjust="spacingAndGlyphs">PD40836</text>
<text x="0" y="0" transform="translate(385.53 534.30) rotate(-90)" font-size="9.0" text-anchor="start" font-weight="normal" fill="#333" textLength="37.4" lengthAdjust="spacingAndGlyphs">PD40822</text>
<text x="0" y="0" transform="translate(393.14 534.30) rotate(-90)" font-size="9.0" text-anchor="start" font-weight="normal" fill="#333" textLength="37.4" lengthAdjust="spacingAndGlyphs">PD40803</text>
<text x="0" y="0" transform="translate(400.75 534.30) rotate(-90)" font-size="9.0" text-anchor="start" font-weight="normal" fill="#333" textLength="37.4" lengthAdjust="spacingAndGlyphs">PD37191</text>
<text x="0" y="0" transform="translate(408.36 534.30) rotate(-90)" font-size="9.0" text-anchor="start" font-weight="normal" fill="#333" textLength="37.4" lengthAdjust="spacingAndGlyphs">PD40826</text>
<text x="0" y="0" transform="translate(415.96 534.30) rotate(-90)" font-size="9.0" text-anchor="start" font-weight="normal" fill="#333" textLength="37.4" lengthAdjust="spacingAndGlyphs">PD40831</text>
<text x="0" y="0" transform="translate(423.57 534.30) rotate(-90)" font-size="9.0" text-anchor="start" font-weight="normal" fill="#333" textLength="37.4" lengthAdjust="spacingAndGlyphs">PD43266</text>
<text x="0" y="0" transform="translate(431.18 534.30) rotate(-90)" font-size="9.0" text-anchor="start" font-weight="normal" fill="#333" textLength="37.4" lengthAdjust="spacingAndGlyphs">PD37195</text>
<text x="0" y="0" transform="translate(438.79 534.30) rotate(-90)" font-size="9.0" text-anchor="start" font-weight="normal" fill="#333" textLength="37.4" lengthAdjust="spacingAndGlyphs">PD40830</text>
<text x="0" y="0" transform="translate(446.40 534.30) rotate(-90)" font-size="9.0" text-anchor="start" font-weight="normal" fill="#333" textLength="37.4" lengthAdjust="spacingAndGlyphs">PD37194</text>
<text x="0" y="0" transform="translate(454.01 534.30) rotate(-90)" font-size="9.0" text-anchor="start" font-weight="normal" fill="#333" textLength="37.4" lengthAdjust="spacingAndGlyphs">PD40818</text>
<text x="466.20" y="399.80" font-size="8.6" text-anchor="start" font-weight="normal" fill="#222" textLength="35" lengthAdjust="spacingAndGlyphs">Signature</text>
<rect x="466.20" y="407.20" width="6.20" height="6.20" fill="#3aa83a"/>
<text x="476.20" y="413.10" font-size="8.3" text-anchor="start" font-weight="normal" fill="#333">SBS1</text>
<rect x="466.20" y="415.15" width="6.20" height="6.20" fill="#561c6c"/>
<text x="476.20" y="421.05" font-size="8.3" text-anchor="start" font-weight="normal" fill="#333">SBS17b</text>
<rect x="466.20" y="423.10" width="6.20" height="6.20" fill="#f0900a"/>
<text x="476.20" y="429.00" font-size="8.3" text-anchor="start" font-weight="normal" fill="#333">SBS18</text>
<rect x="466.20" y="431.05" width="6.20" height="6.20" fill="#f8c000"/>
<text x="476.20" y="436.95" font-size="8.3" text-anchor="start" font-weight="normal" fill="#333">SBS7a</text>
<rect x="466.20" y="439.00" width="6.20" height="6.20" fill="#1a4a8c"/>
<text x="476.20" y="444.90" font-size="8.3" text-anchor="start" font-weight="normal" fill="#333">SBS8</text>
<rect x="466.20" y="446.95" width="6.20" height="6.20" fill="#e0107a"/>
<text x="476.20" y="452.85" font-size="8.3" text-anchor="start" font-weight="normal" fill="#333">SBS9</text>
<rect x="466.20" y="454.90" width="6.20" height="6.20" fill="#c8700e"/>
<text x="476.20" y="460.80" font-size="8.3" text-anchor="start" font-weight="normal" fill="#333">SBSblood</text>
<rect x="0" y="0" width="520" height="1" fill="#555"/><rect x="0" y="541" width="520" height="1" fill="#555"/><rect x="0" y="0" width="1" height="542" fill="#555"/><rect x="519" y="0" width="1" height="542" fill="#555"/>
</svg></body></html>
